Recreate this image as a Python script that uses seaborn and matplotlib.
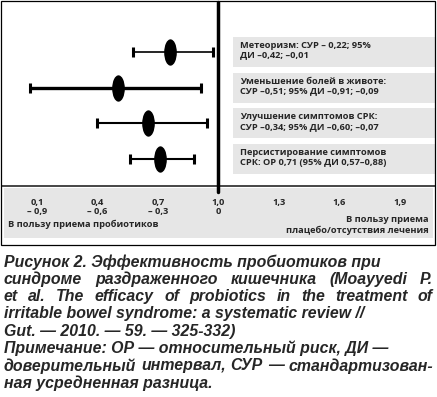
import matplotlib
matplotlib.use("Agg")
import matplotlib.pyplot as plt
import seaborn as sns
import numpy as np
from matplotlib.path import Path
from matplotlib.transforms import Affine2D, blended_transform_factory
from matplotlib.patches import Rectangle

# data
rows = [1, 2, 3, 4]
estimate = [0.762, 0.50, 0.652, 0.71]
ci_low = [0.574, 0.064, 0.40, 0.56]
ci_high = [0.974, 0.912, 0.943, 0.88]
box_text = [
    "Метеоризм: СУР – 0,22; 95%\nДИ –0,42; –0,01",
    "Уменьшение болей в животе:\nСУР –0,51; 95% ДИ –0,91; –0,09",
    "Улучшение симптомов СРК:\nСУР –0,34; 95% ДИ –0,60; –0,07",
    "Персистирование симптомов\nСРК: ОР 0,71 (95% ДИ 0,57–0,88)",
]
tick_vals = [0.1, 0.4, 0.7, 1.0, 1.3, 1.6, 1.9]
tick_labels = ["0,1\n– 0,9", "0,4\n– 0,6", "0,7\n– 0,3", "1,0\n0", "1,3", "1,6", "1,9"]
left_note = "В пользу приема пробиотиков"
right_note = "В пользу приема\nплацебо/отсутствия лечения"
caption = [
    "Рисунок 2. Эффективность пробиотиков при",
    "синдроме раздраженного кишечника (Moayyedi P.",
    "et al. The efficacy of probiotics in the treatment of",
    "irritable bowel syndrome: a systematic review //",
    "Gut. — 2010. — 59. — 325-332)",
    "Примечание: ОР — относительный риск, ДИ —",
    "доверительный интервал, СУР — стандартизован-",
    "ная усредненная разница.",
]
justified = [False, True, True, False, False, False, True, False]

sns.set_style("white")
plt.rcParams["font.family"] = ["Open Sans", "DejaVu Sans"]

W, H = 437, 397
fig = plt.figure(figsize=(W / 100, H / 100), dpi=100)


def fx(px):
    return px / W


def fy(py):
    return 1 - py / H


ax = fig.add_axes([fx(2), fy(186), fx(433), (186 - 2) / H])
ax.set_xlim(-0.074, 2.076)
ax.set_ylim(4.757, -0.402)

# confidence intervals
lw = [1.2, 2.4, 1.5, 1.5]
for i in range(len(rows)):
    ax.errorbar(estimate[i], rows[i],
                xerr=[[estimate[i] - ci_low[i]], [ci_high[i] - estimate[i]]],
                fmt="none", ecolor="black", elinewidth=lw[i],
                capsize=3.8, capthick=2.2, zorder=2)

# vertical ellipse markers
ellipse = Path.unit_circle().transformed(Affine2D().scale(0.48, 1))
sns.scatterplot(x=estimate, y=rows, marker=ellipse, s=360, color="black",
                linewidth=0, ax=ax, zorder=3)

ax.axvline(1.0, ymin=-0.033, ymax=1, color="black", lw=2.5, clip_on=False, zorder=4)

lab_font = dict(fontsize=6.7, fontweight="bold")

# gray boxes with labels
tr = blended_transform_factory(ax.transAxes, ax.transData)
for r, t in zip(rows, box_text):
    ax.add_patch(Rectangle((0.533, r - 0.42), 0.467, 0.84, transform=tr,
                           facecolor="#e6e6e6", edgecolor="none", zorder=1))
    ax.text(0.55, r - 0.05, t, transform=tr, ha="left", va="center",
            linespacing=1.1, zorder=5, **lab_font)

for s in ["top", "left", "right"]:
    ax.spines[s].set_visible(False)
ax.spines["bottom"].set_linewidth(1.2)
ax.set_yticks([])
ax.set_xticks(tick_vals)
ax.set_xticklabels(tick_labels, linespacing=1.0, **lab_font)
ax.tick_params(axis="x", direction="inout", length=8.6, width=1.5, pad=4)
ax.patch.set_visible(False)

# frame and gray band below the axis
fig.patches.append(Rectangle((fx(1), fy(245)), fx(434), 244 / H, transform=fig.transFigure,
                             facecolor="none", edgecolor="black", lw=0.9, zorder=0))
fig.patches.append(Rectangle((fx(4), fy(238)), fx(429), 50 / H, transform=fig.transFigure,
                             facecolor="#e6e6e6", edgecolor="none", zorder=-1))

fig.text(fx(8), fy(224), left_note, ha="left", va="center", **lab_font)
fig.text(fx(429), fy(225), right_note, ha="right", va="center",
         multialignment="right", linespacing=1.15, **lab_font)

# caption, some lines justified to the full width
cap_font = dict(fontsize=11.4, fontweight="bold", fontstyle="italic",
                family=["Liberation Sans", "DejaVu Sans"])
renderer = fig.canvas.get_renderer()
x0, x1 = 4, 433
for i, line in enumerate(caption):
    y = fy(262 + i * 17.3)
    if not justified[i]:
        fig.text(fx(x0), y, line, ha="left", va="center", **cap_font)
        continue
    words = line.split(" ")
    objs = [fig.text(0, y, w, ha="left", va="center", **cap_font) for w in words]
    widths = [o.get_window_extent(renderer).width for o in objs]
    gap = max((x1 - x0 - sum(widths)) / (len(words) - 1), 2.5)
    x = x0
    for o, wd in zip(objs, widths):
        o.set_x(fx(x))
        x += wd + gap

fig.savefig("out.png", dpi=100)
